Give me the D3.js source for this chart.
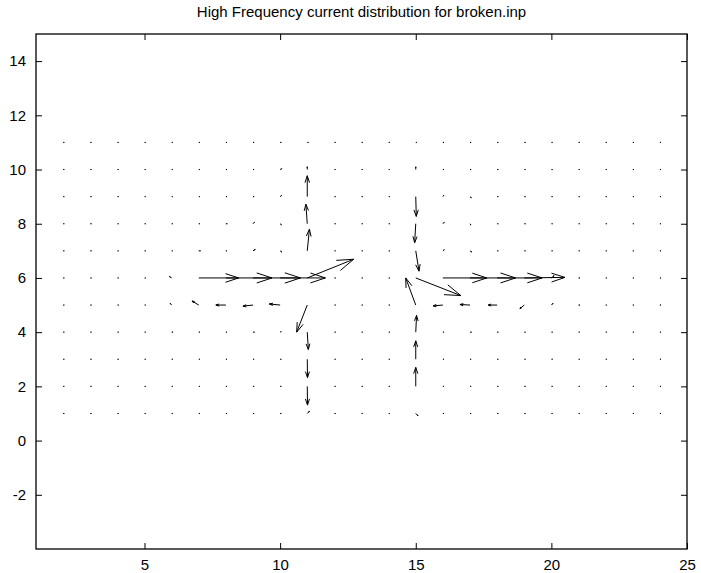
<!DOCTYPE html>
<html>
<head>
<meta charset="utf-8">
<script src="https://cdn.jsdelivr.net/npm/d3@7"></script>
<style>
  html, body { margin: 0; padding: 0; background: #fff; }
  svg { display: block; }
  text { font-family: "Liberation Sans", Arial, Helvetica, sans-serif; fill: #000; }
</style>
</head>
<body>
<svg id="chart" width="701" height="573"></svg>
<script>
// ---- data ----
const title = "High Frequency current distribution for broken.inp";
const xGrid = [2,3,4,5,6,7,8,9,10,11,12,13,14,15,16,17,18,19,20,21,22,23,24];
const yGrid = [1,2,3,4,5,6,7,8,9,10,11];
const xTicks = [5,10,15,20,25];
const yTicks = [-2,0,2,4,6,8,10,12,14];
const xDomain = [1,25];
const yDomain = [-4,15];

// U components, one row per y (y = 1 .. 11), columns x = 2 .. 24
const U = [
  [0.04,0.04,0.04,0.04,0.04,0.04,0.04,0.04,0.04,0.08,0.04,0.04,0.04,0.08,0.04,0.04,0.04,0.04,0.04,0.04,0.04,0.04,0.04],
  [0.04,0.04,0.04,0.04,0.04,0.04,0.04,0.04,0.04,0.01,0.04,0.04,0.04,0.00,0.04,0.04,0.04,0.04,0.04,0.04,0.04,0.04,0.04],
  [0.04,0.04,0.04,0.04,0.04,0.04,0.04,0.04,0.04,0.01,0.04,0.04,0.04,0.00,0.04,0.04,0.04,0.04,0.04,0.04,0.04,0.04,0.04],
  [0.04,0.04,0.04,0.04,0.05,0.04,0.04,0.05,0.04,0.04,0.04,0.04,0.04,0.03,0.04,0.05,0.04,0.04,0.04,0.04,0.04,0.04,0.04],
  [0.04,0.04,0.04,0.04,-0.05,-0.25,-0.37,-0.37,-0.40,-0.39,0.04,0.04,0.04,-0.37,-0.36,-0.37,-0.33,-0.16,0.06,0.05,0.04,0.04,0.04],
  [0.04,0.04,0.04,0.04,-0.08,1.47,1.70,1.75,1.67,1.71,0.04,0.04,0.04,1.66,1.62,1.68,1.66,1.50,0.10,0.05,0.04,0.04,0.04],
  [0.04,0.04,0.04,0.04,0.04,0.06,0.04,0.08,0.06,0.08,0.04,0.04,0.04,0.12,0.05,0.06,0.04,0.04,0.04,0.04,0.04,0.04,0.04],
  [0.04,0.04,0.04,0.04,0.04,0.04,0.05,0.05,0.05,-0.05,0.04,0.04,0.04,-0.04,0.05,0.03,0.04,0.04,0.04,0.04,0.04,0.04,0.04],
  [0.04,0.04,0.04,0.04,0.04,0.04,0.04,0.04,0.05,0.00,0.04,0.04,0.04,0.02,0.03,0.05,0.04,0.04,0.04,0.04,0.04,0.04,0.04],
  [0.04,0.04,0.04,0.04,0.04,0.04,0.04,0.04,0.06,0.00,0.04,0.04,0.04,0.00,0.04,0.04,0.04,0.04,0.04,0.04,0.04,0.04,0.04],
  [0.04,0.04,0.04,0.04,0.04,0.04,0.04,0.04,0.04,0.04,0.04,0.04,0.04,0.04,0.04,0.04,0.04,0.04,0.04,0.04,0.04,0.04,0.04]
];
// V components, same layout
const V = [
  [0,0,0,0,0,0,0,0,0,0.08,0,0,0,-0.08,0,0,0,0,0,0,0,0,0],
  [0,0,0,0,0,0,0,0,0,-0.69,0,0,0,0.70,0,0,0,0,0,0,0,0,0],
  [0,0,0,0,0,0,0,0,0,-0.68,0,0,0,0.68,0,0,0,0,0,0,0,0,0],
  [0,0,0,0,0,0,0,0,0.02,-0.64,0,0,0,0.62,0,0,0,0,0,0,0,0,0],
  [0,0,0,0,0.06,0.15,0,-0.04,0.04,-1.00,0,0,0,1.00,-0.03,0.02,0,-0.13,0.06,0,0,0,0],
  [0,0,0,0,0.05,0,0,0,0,0.69,0,0,0,-0.65,0,0,0,0.02,0.08,0,0,0,0],
  [0,0,0,0,0,0,0,0.05,-0.04,0.80,0,0,0,-0.75,0.04,-0.04,0,0,0,0,0,0,0],
  [0,0,0,0,0,0,0,0.05,-0.04,0.72,0,0,0,-0.70,0.05,-0.05,0,0,0,0,0,0,0],
  [0,0,0,0,0,0,0,0,0.04,0.77,0,0,0,-0.73,0.05,-0.04,0,0,0,0,0,0,0],
  [0,0,0,0,0,0,0,0,0.03,0.10,0,0,0,0.10,0,0,0,0,0,0,0,0,0],
  [0,0,0,0,0,0,0,0,0,0,0,0,0,0,0,0,0,0,0,0,0,0,0]
];

// ---- layout ----
const svg = d3.select("#chart");
const L = 36, R = 687, T = 34, B = 549;
const x = d3.scaleLinear().domain(xDomain).range([L, R]);
const y = d3.scaleLinear().domain(yDomain).range([B, T]);

// quiver vectors (MATLAB-style arrowheads)
const alpha = 0.33, beta = 0.33;
const vecs = [];
yGrid.forEach((yy, i) => {
  xGrid.forEach((xx, j) => {
    vecs.push({x: xx, y: yy, u: U[i][j], v: V[i][j]});
  });
});
const g = svg.append("g");
const pathFor = d => {
  const tx = d.x + d.u, ty = d.y + d.v;
  const h1x = tx - alpha * (d.u + beta * d.v), h1y = ty - alpha * (d.v - beta * d.u);
  const h2x = tx - alpha * (d.u - beta * d.v), h2y = ty - alpha * (d.v + beta * d.u);
  return `M${x(d.x)},${y(d.y)}L${x(tx)},${y(ty)}` +
         `M${x(h1x)},${y(h1y)}L${x(tx)},${y(ty)}L${x(h2x)},${y(h2y)}`;
};
g.selectAll("path.q").data(vecs).enter().append("path")
  .attr("class", "q")
  .attr("d", pathFor)
  .attr("fill", "none")
  .attr("stroke", "#000")
  .attr("stroke-width", 1);

// axes
const tickLen = 6;
const fmt = d => String(d);
const axB = d3.axisBottom(x).tickValues(xTicks).tickSizeInner(-tickLen).tickSizeOuter(0).tickPadding(10).tickFormat(fmt);
const axT = d3.axisTop(x).tickValues(xTicks).tickSizeInner(-tickLen).tickSizeOuter(0).tickFormat("");
const axL = d3.axisLeft(y).tickValues(yTicks).tickSizeInner(-tickLen).tickSizeOuter(0).tickPadding(10).tickFormat(fmt);
const axR = d3.axisRight(y).tickValues(yTicks).tickSizeInner(-tickLen).tickSizeOuter(0).tickFormat("");

const gB = svg.append("g").attr("transform", `translate(0,${B})`).call(axB);
const gT = svg.append("g").attr("transform", `translate(0,${T})`).call(axT);
const gL = svg.append("g").attr("transform", `translate(${L},0)`).call(axL);
const gR = svg.append("g").attr("transform", `translate(${R},0)`).call(axR);
[gB, gT, gL, gR].forEach(a => {
  a.select(".domain").remove();
  a.selectAll("line").attr("stroke", "#000");
  a.selectAll("text").attr("font-size", 15).attr("fill", "#000")
    .style("font-family", '"Liberation Sans", Arial, sans-serif');
});
gB.selectAll("text").attr("dy", "0.71em");

// frame
svg.append("rect")
  .attr("x", L).attr("y", T).attr("width", R - L).attr("height", B - T)
  .attr("fill", "none").attr("stroke", "#000").attr("stroke-width", 1.3);

// title
svg.append("text")
  .attr("x", (L + R) / 2).attr("y", 17)
  .attr("text-anchor", "middle")
  .attr("font-size", 15)
  .text(title);
</script>
</body>
</html>
